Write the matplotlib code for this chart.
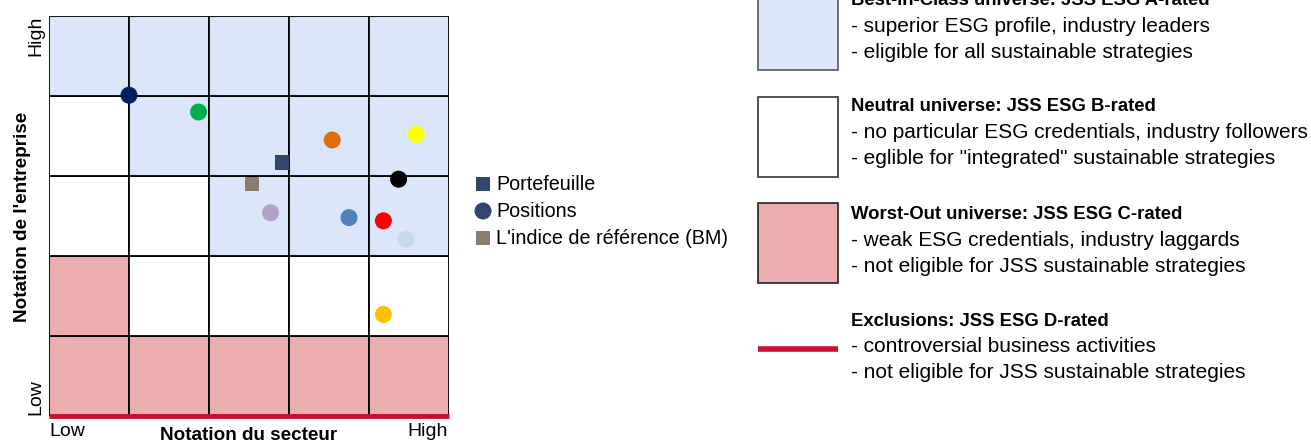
import matplotlib
matplotlib.use("Agg")
import matplotlib.pyplot as plt
from matplotlib.patches import Rectangle

plt.rcParams['font.family'] = ['Liberation Sans', 'DejaVu Sans']

# ---- data ----
# zone grid, rows from bottom (company rating low->high), cols sector rating low->high
# A = best-in-class, B = neutral, C = worst-out
zones = [
    ["C", "C", "C", "C", "C"],
    ["C", "B", "B", "B", "B"],
    ["B", "B", "A", "A", "A"],
    ["B", "A", "A", "A", "A"],
    ["A", "A", "A", "A", "A"],
]
zone_colors = {"A": "#DCE6FA", "B": "#FFFFFF", "C": "#EBADAD"}

pos_x = [1.00, 1.87, 3.54, 4.59, 4.37, 2.77, 3.75, 4.18, 4.46, 4.18]
pos_y = [4.01, 3.80, 3.45, 3.52, 2.96, 2.54, 2.48, 2.44, 2.21, 1.27]
pos_colors = ["#002060", "#00B050", "#E36C0A", "#FFFF00", "#000000",
              "#B3A2C7", "#4F81BD", "#FF0000", "#C6D9F1", "#FFC000"]

portfolio_xy = (2.91, 3.17)
benchmark_xy = (2.54, 2.90)

legend_labels = ["Portefeuille", "Positions", "L'indice de référence (BM)"]

zone_titles = ["Best-in-Class universe: JSS ESG A-rated",
               "Neutral universe: JSS ESG B-rated",
               "Worst-Out universe: JSS ESG C-rated",
               "Exclusions: JSS ESG D-rated"]
zone_lines = [["- superior ESG profile, industry leaders",
               "- eligible for all sustainable strategies"],
              ["- no particular ESG credentials, industry followers",
               "- eglible for \"integrated\" sustainable strategies"],
              ["- weak ESG credentials, industry laggards",
               "- not eligible for JSS sustainable strategies"],
              ["- controversial business activities",
               "- not eligible for JSS sustainable strategies"]]

W, H = 1311, 443
fig = plt.figure(figsize=(W / 100, H / 100), dpi=100)

ax = fig.add_axes([49 / W, (H - 416) / H, 400 / W, 400 / H])
n = len(zones)
for r, row in enumerate(zones):
    for c, z in enumerate(row):
        ax.add_patch(Rectangle((c, r), 1, 1, facecolor=zone_colors[z],
                               edgecolor="black", linewidth=1.3, zorder=1))
ax.set_xlim(0, n)
ax.set_ylim(0, n)
ax.set_xticks([])
ax.set_yticks([])
for s in ax.spines.values():
    s.set_visible(False)
ax.plot([0, n], [0, 0], color="#C8102E", linewidth=3.5, zorder=3, clip_on=False,
        solid_capstyle="butt")

ax.scatter(pos_x, pos_y, s=150, c=pos_colors, edgecolors="none", zorder=5, clip_on=False)
ax.scatter([portfolio_xy[0]], [portfolio_xy[1]], marker="s", s=110, c="#31456E",
           edgecolors="none", zorder=5)
ax.scatter([benchmark_xy[0]], [benchmark_xy[1]], marker="s", s=110, c="#8C7E6E",
           edgecolors="none", zorder=5)

# axis annotations
fig.text(36 / W, 1 - 36 / H, "High", rotation=90, ha="center", va="center", fontsize=14)
fig.text(36 / W, 1 - 397 / H, "Low", rotation=90, ha="center", va="center", fontsize=14)
fig.text(67 / W, 1 - 432 / H, "Low", ha="center", va="center", fontsize=14)
fig.text(428 / W, 1 - 431 / H, "High", ha="center", va="center", fontsize=14)
fig.text(249 / W, 1 - 436 / H, "Notation du secteur", ha="center", va="center",
         fontsize=13.6, fontweight="bold")
fig.text(23 / W, 1 - 217 / H, "Notation de l'entreprise", rotation=90, ha="center",
         va="center", fontsize=13.6, fontweight="bold")

# overlay in pixel coordinates for legends
ov = fig.add_axes([0, 0, 1, 1], zorder=10)
ov.set_xlim(0, W)
ov.set_ylim(H, 0)
ov.axis("off")

leg_y = [184, 211, 238]
ov.scatter([483], [leg_y[0]], marker="s", s=110, c="#31456E", edgecolors="none")
ov.scatter([483], [leg_y[1]], marker="o", s=150, c="#31456E", edgecolors="none")
ov.scatter([483], [leg_y[2]], marker="s", s=110, c="#8C7E6E", edgecolors="none")
for yy, lab in zip(leg_y, legend_labels):
    ov.text(496, yy, lab, va="center", ha="left", fontsize=14.2)

box_tops = [-10, 97, 203]
box_cols = [zone_colors["A"], zone_colors["B"], zone_colors["C"]]
box_edges = ["#555555", "#333333", "#222222"]
for t, fc, ec in zip(box_tops, box_cols, box_edges):
    ov.add_patch(Rectangle((758, t), 80, 80, facecolor=fc, edgecolor=ec, linewidth=1.2))
ov.plot([758, 838], [349, 349], color="#C8102E", linewidth=4, solid_capstyle="butt")

title_y = [0, 106, 214, 321]
for ty, title, lines in zip(title_y, zone_titles, zone_lines):
    ov.text(851, ty, title, va="center", ha="left", fontsize=13.3, fontweight="bold")
    for i, ln in enumerate(lines):
        ov.text(851, ty + 26 * (i + 1), ln, va="center", ha="left", fontsize=15)

fig.savefig("out.png", dpi=100)
